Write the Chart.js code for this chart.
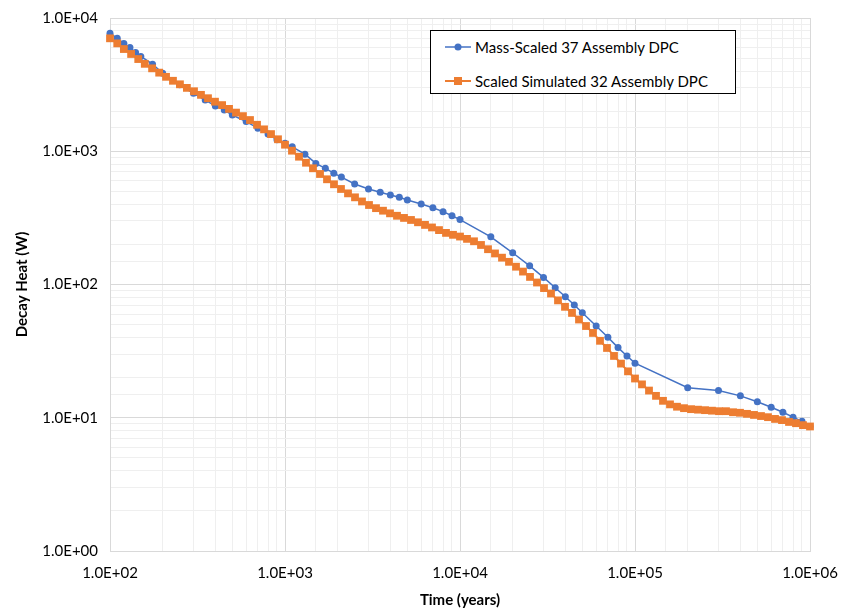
<!DOCTYPE html>
<html>
<head>
<meta charset="utf-8">
<script src="https://cdn.jsdelivr.net/npm/chart.js@4"></script>
<style>
  body { margin: 0; background: #fff; }
  #wrap { position: relative; width: 842px; height: 609px; }
  #legend {
    position: absolute; left: 430px; top: 30px; width: 304px; height: 62px;
    border: 1px solid #000; background: #fff;
    font-family: Lato, "Open Sans", sans-serif; font-size: 15px; color: #000;
  }
  .item { position: absolute; left: 14px; height: 20px; display: flex; align-items: center; }
  .item svg { margin-right: 4px; }
</style>
</head>
<body>
<div id="wrap">
  <canvas id="chart" width="842" height="609"></canvas>
  <div id="legend">
    <div class="item" style="top:6px">
      <svg width="26" height="12"><line x1="0" y1="6" x2="26" y2="6" stroke="#4472C4" stroke-width="1.5"/><circle cx="13" cy="6" r="3.5" fill="#4472C4"/></svg>
      <span>Mass-Scaled 37 Assembly DPC</span>
    </div>
    <div class="item" style="top:40px">
      <svg width="26" height="12"><line x1="0" y1="6" x2="26" y2="6" stroke="#ED7D31" stroke-width="2"/><rect x="9" y="2" width="8" height="8" fill="#ED7D31"/></svg>
      <span>Scaled Simulated 32 Assembly DPC</span>
    </div>
  </div>
</div>
<script>
// Mass-Scaled 37 Assembly DPC
const massTime = [100, 110, 120, 130, 140, 150, 175, 200, 250, 300, 350, 400, 450, 500, 600, 700, 800, 900,
  1000, 1100, 1300, 1500, 1700, 1900, 2100, 2500, 3000, 3500, 4000, 4500, 5000, 6000, 7000, 8000, 9000,
  10000, 15000, 20000, 25000, 30000, 35000, 40000, 45000, 50000, 60000, 70000, 80000, 90000,
  100000, 200000, 300000, 400000, 500000, 600000, 700000, 800000, 900000, 1000000];
const massHeat = [7700, 7050, 6450, 6000, 5500, 5150, 4500, 3850, 3150, 2720, 2420, 2190, 2040, 1870, 1670, 1490, 1350, 1220,
  1150, 1080, 950, 810, 745, 685, 640, 568, 521, 492, 470, 451, 431, 402, 377, 352, 328,
  307, 228, 173, 138, 113, 94.6, 81, 70.2, 61.4, 48.8, 40.2, 33.6, 29.1,
  25.7, 16.8, 16.0, 14.6, 13.2, 12.0, 11.0, 10.1, 9.4, 8.6];

// Scaled Simulated 32 Assembly DPC
const simTime = [100, 110, 120, 132, 145, 158, 174, 191, 209, 229, 251, 275, 302, 331, 363, 398, 437, 479, 525, 575, 631, 692, 759, 832, 912,
  1000, 1096, 1202, 1318, 1445, 1585, 1738, 1905, 2089, 2291, 2512, 2754, 3020, 3311, 3631, 3981, 4365, 4786, 5248, 5754, 6310, 6918, 7586, 8318, 9120,
  10000, 10965, 12023, 13183, 14454, 15849, 17378, 19055, 20893, 22909, 25119, 27542, 30200, 33113, 36308, 39811, 43652, 47863, 52481, 57544, 63096, 69183, 75858, 83176, 91201,
  100000, 109648, 120226, 131826, 144544, 158489, 173780, 190546, 208930, 229087, 251189, 275423, 301995, 331131, 363078, 398107, 436516, 478630, 524807, 575440, 630957, 691831, 758578, 831764, 912011, 1000000];
const simHeat = [7040, 6450, 5850, 5370, 4920, 4530, 4190, 3890, 3620, 3380, 3180, 2990, 2820, 2650, 2500, 2355, 2220, 2080, 1950, 1835, 1715, 1580, 1460, 1345, 1230,
  1120, 1010, 910, 820, 745, 675, 616, 565, 521, 483, 451, 420, 395, 374, 358, 342, 328, 316, 305, 293, 280, 268, 256, 244, 236,
  229, 220, 211, 198, 184, 171, 159, 148, 136, 125, 114, 103.5, 94, 85.6, 76, 68, 61.2, 54.6, 48.8, 43.3, 37.8, 33.4, 29.1, 25.5, 22.3,
  19.7, 17.8, 16.0, 14.6, 13.4, 12.6, 12.1, 11.8, 11.6, 11.5, 11.4, 11.3, 11.2, 11.2, 11.0, 10.9, 10.7, 10.5, 10.3, 10.1, 9.8, 9.6, 9.3, 9.1, 8.8, 8.6];

const toPoints = (xs, ys) => xs.map((x, i) => ({ x: x, y: ys[i] }));

function isDecade(v) {
  const e = Math.log10(v);
  return Math.abs(e - Math.round(e)) < 1e-9;
}
function sciLabel(v) {
  if (!isDecade(v)) return '';
  const e = Math.round(Math.log10(v));
  return '1.0E' + (e < 0 ? '-' : '+') + String(Math.abs(e)).padStart(2, '0');
}
const gridColor = ctx => (ctx.tick && isDecade(ctx.tick.value)) ? '#d9d9d9' : '#efefef';

const font = { family: 'Lato, "Open Sans", sans-serif', size: 15 };

new Chart(document.getElementById('chart'), {
  type: 'line',
  data: {
    datasets: [
      {
        label: 'Scaled Simulated 32 Assembly DPC',
        data: toPoints(simTime, simHeat),
        borderColor: '#ED7D31',
        backgroundColor: '#ED7D31',
        borderWidth: 2,
        pointStyle: 'rect',
        pointRadius: 5.5,
        pointBorderWidth: 0,
        clip: false,
        order: 0
      },
      {
        label: 'Mass-Scaled 37 Assembly DPC',
        data: toPoints(massTime, massHeat),
        borderColor: '#4472C4',
        backgroundColor: '#4472C4',
        borderWidth: 1.5,
        pointStyle: 'circle',
        pointRadius: 3.5,
        pointBorderWidth: 0,
        clip: false,
        order: 1
      }
    ]
  },
  options: {
    responsive: false,
    animation: false,
    layout: { padding: { left: 0, top: 18, right: 32, bottom: 0 } },
    plugins: {
      legend: { display: false },
      tooltip: { enabled: false }
    },
    scales: {
      x: {
        type: 'logarithmic',
        min: 100,
        max: 1000000,
        afterFit: scale => { scale.height = 58; scale.paddingLeft = 0; scale.paddingRight = 0; },
        grid: { color: gridColor, drawTicks: false },
        border: { color: '#d9d9d9' },
        ticks: {
          autoSkip: false, maxRotation: 0, padding: 13,
          color: '#000', font: font,
          callback: v => sciLabel(v)
        },
        title: {
          display: true, text: 'Time (years)', color: '#000',
          font: { family: font.family, size: 15, weight: 'bold' },
          padding: { top: 0, bottom: 0 }
        }
      },
      y: {
        type: 'logarithmic',
        min: 1,
        max: 10000,
        afterFit: scale => { scale.width = 110; scale.paddingTop = 0; scale.paddingBottom = 0; },
        grid: { color: gridColor, drawTicks: false },
        border: { color: '#d9d9d9' },
        ticks: {
          autoSkip: false, padding: 12,
          color: '#000', font: font,
          callback: v => sciLabel(v)
        },
        title: {
          display: true, text: 'Decay Heat (W)', color: '#000',
          font: { family: font.family, size: 15, weight: 'bold' },
          padding: { top: 13, bottom: 0 }
        }
      }
    }
  }
});
</script>
</body>
</html>
